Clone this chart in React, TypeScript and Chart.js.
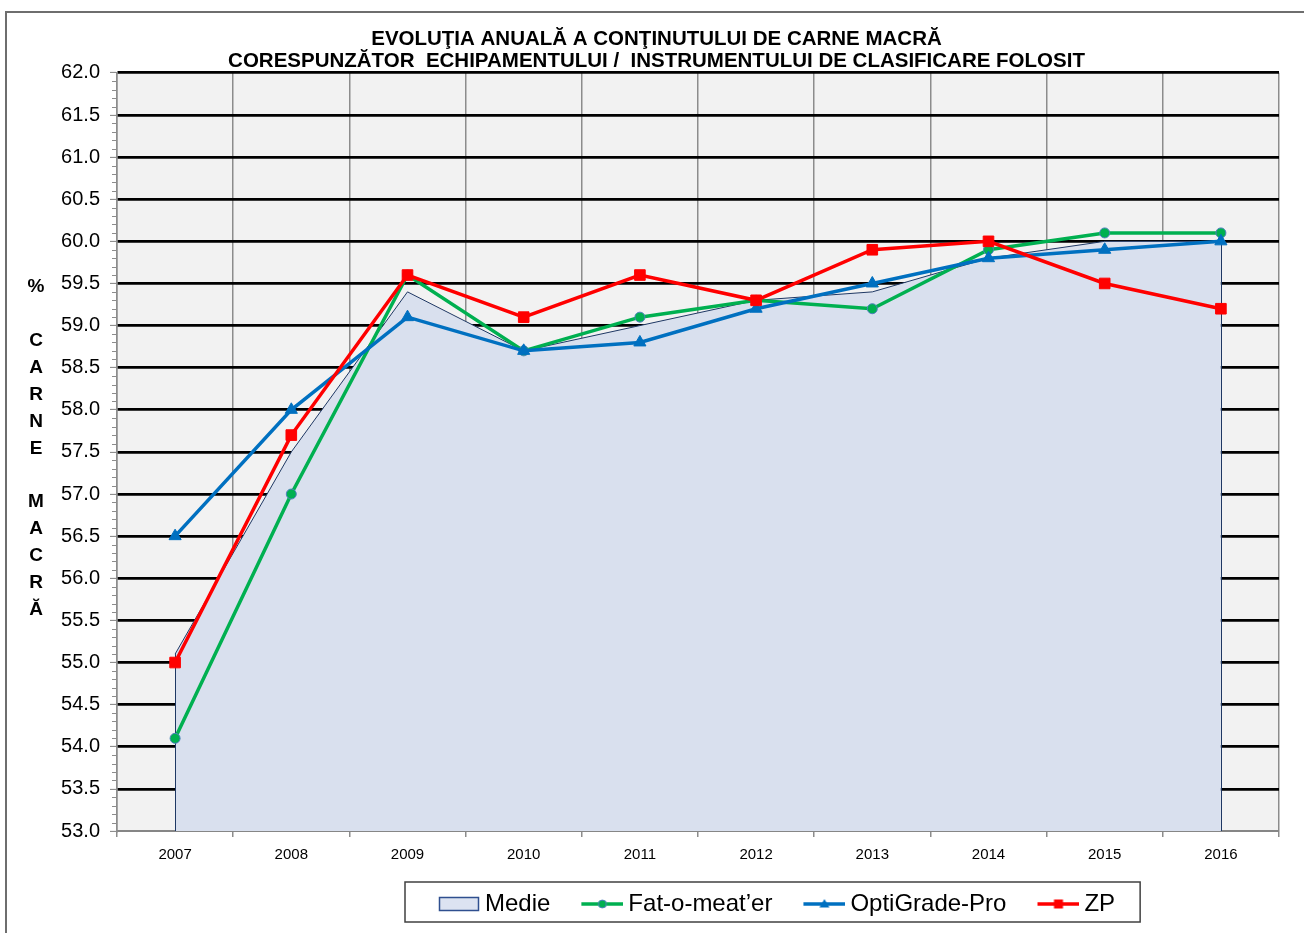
import React, { useEffect, useRef } from "react";
import { Chart, registerables } from "chart.js";

Chart.register(...registerables);

const categories = ["2007", "2008", "2009", "2010", "2011", "2012", "2013", "2014", "2015", "2016"];
const medie = [55.1, 57.5, 59.4, 58.7, 59.0, 59.3, 59.4, 59.8, 60.0, 60.0];
const fatOMeater = [54.1, 57.0, 59.6, 58.7, 59.1, 59.3, 59.2, 59.9, 60.1, 60.1];
const optiGradePro = [56.5, 58.0, 59.1, 58.7, 58.8, 59.2, 59.5, 59.8, 59.9, 60.0];
const zp = [55.0, 57.7, 59.6, 59.1, 59.6, 59.3, 59.9, 60.0, 59.5, 59.2];
const seriesNames = ["Medie", "Fat-o-meat\u2019er", "OptiGrade-Pro", "ZP"];
const titleLines = [
  "EVOLUŢIA ANUALĂ A CONŢINUTULUI DE CARNE MACRĂ",
  "CORESPUNZĂTOR  ECHIPAMENTULUI /  INSTRUMENTULUI DE CLASIFICARE FOLOSIT",
];
const yAxisTitle = ["%", "", "C", "A", "R", "N", "E", "", "M", "A", "C", "R", "Ă"];
const yMin = 53;
const yMax = 62;
const yStep = 0.5;
const yMinorStep = 0.1;

const FONT = '"Liberation Sans", Arial, Helvetica, sans-serif';
const GREEN = "#00b050";
const BLUE = "#0070c0";
const RED = "#ff0000";
const MEDIE_FILL = "#d9e0ee";
const MEDIE_LINE = "#1f3864";

function makeIcon(kind: string, color: string): HTMLCanvasElement {
  const c = document.createElement("canvas");
  c.width = 56;
  c.height = 16;
  const ctx = c.getContext("2d")!;
  if (kind === "area") {
    ctx.fillStyle = "#dce3f1";
    ctx.fillRect(15.5, 1.5, 39, 13);
    ctx.strokeStyle = "#2f4f8f";
    ctx.lineWidth = 1.5;
    ctx.strokeRect(15.5, 1.5, 39, 13);
    return c;
  }
  ctx.strokeStyle = color;
  ctx.lineWidth = 3.5;
  ctx.beginPath();
  ctx.moveTo(14, 8);
  ctx.lineTo(56, 8);
  ctx.stroke();
  const cx = 35;
  const cy = 8;
  ctx.fillStyle = color;
  if (kind === "circle") {
    ctx.beginPath();
    ctx.arc(cx, cy, 4, 0, Math.PI * 2);
    ctx.fill();
    ctx.strokeStyle = "#4f81bd";
    ctx.lineWidth = 1;
    ctx.stroke();
  } else if (kind === "triangle") {
    ctx.beginPath();
    ctx.moveTo(cx, cy - 5);
    ctx.lineTo(cx + 5, cy + 3.5);
    ctx.lineTo(cx - 5, cy + 3.5);
    ctx.closePath();
    ctx.fill();
  } else {
    ctx.fillRect(cx - 4.5, cy - 4.5, 9, 9);
  }
  return c;
}

export default function App() {
  const canvasRef = useRef<HTMLCanvasElement | null>(null);

  useEffect(() => {
    const canvas = canvasRef.current;
    if (!canvas) return;

    const icons = [
      makeIcon("area", MEDIE_LINE),
      makeIcon("circle", GREEN),
      makeIcon("triangle", BLUE),
      makeIcon("rect", RED),
    ];

    const legendItemLeft = 431;
    const titleShift = 17;

    const decor = {
      id: "decor",
      beforeDraw(chart: any) {
        const { ctx, chartArea } = chart;
        ctx.save();
        ctx.fillStyle = "#f2f2f2";
        ctx.fillRect(chartArea.left, chartArea.top, chartArea.right - chartArea.left, chartArea.bottom - chartArea.top);
        ctx.restore();
      },
      afterUpdate(chart: any) {
        const lg = chart.legend;
        if (lg && lg.legendHitBoxes && lg.legendHitBoxes.length) {
          const d = legendItemLeft - lg.legendHitBoxes[0].left;
          lg.left += d;
          lg.right += d;
          lg.legendHitBoxes.forEach((h: any) => (h.left += d));
        }
        const tb = chart.titleBlock;
        if (tb) {
          tb.left += titleShift;
          tb.right += titleShift;
        }
      },
      afterDatasetDraw(chart: any, args: any) {
        if (args.index !== 0) return;
        const meta = chart.getDatasetMeta(0);
        const pts = meta.data;
        if (!pts.length) return;
        const { ctx, chartArea } = chart;
        ctx.save();
        ctx.strokeStyle = MEDIE_LINE;
        ctx.lineWidth = 1;
        [pts[0], pts[pts.length - 1]].forEach((p: any) => {
          ctx.beginPath();
          ctx.moveTo(Math.round(p.x) + 0.5, p.y);
          ctx.lineTo(Math.round(p.x) + 0.5, chartArea.bottom);
          ctx.stroke();
        });
        ctx.restore();
      },
      afterDraw(chart: any) {
        const { ctx, chartArea } = chart;
        const ys = chart.scales.y;
        ctx.save();
        // minor ticks
        ctx.strokeStyle = "#8c8c8c";
        ctx.lineWidth = 1;
        const n = Math.round((yMax - yMin) / yMinorStep);
        const per = Math.round(yStep / yMinorStep);
        for (let i = 0; i <= n; i++) {
          if (i % per === 0) continue;
          const y = Math.round(ys.getPixelForValue(yMin + i * yMinorStep)) + 0.5;
          ctx.beginPath();
          ctx.moveTo(chartArea.left - 5, y);
          ctx.lineTo(chartArea.left, y);
          ctx.stroke();
        }
        // y-axis title (stacked letters)
        ctx.fillStyle = "#000";
        ctx.font = `bold 19px ${FONT}`;
        ctx.textAlign = "center";
        ctx.textBaseline = "middle";
        yAxisTitle.forEach((t, i) => {
          if (t) ctx.fillText(t, 36, 287 + i * 26.9);
        });
        // legend border
        const lg = chart.legend;
        if (lg && lg.legendHitBoxes && lg.legendHitBoxes.length) {
          const hb = lg.legendHitBoxes;
          const first = hb[0];
          const last = hb[hb.length - 1];
          const left = first.left - 26;
          const right = last.left + last.width + 25;
          const cy = first.top + 12;
          ctx.strokeStyle = "#404040";
          ctx.lineWidth = 1.5;
          ctx.strokeRect(left, cy - 22, right - left, 40);
        }
        ctx.restore();
      },
    };

    const chart = new Chart(canvas, {
      type: "line",
      data: {
        labels: categories,
        datasets: [
          {
            label: seriesNames[0],
            data: medie,
            borderColor: MEDIE_LINE,
            borderWidth: 1,
            backgroundColor: MEDIE_FILL,
            fill: "start",
            pointRadius: 0,
            tension: 0,
            order: 10,
          },
          {
            label: seriesNames[1],
            data: fatOMeater,
            borderColor: GREEN,
            borderWidth: 3.5,
            backgroundColor: GREEN,
            pointStyle: "circle",
            pointRadius: 5,
            pointBackgroundColor: GREEN,
            pointBorderColor: "#4f81bd",
            pointBorderWidth: 1,
            fill: false,
            order: 3,
          },
          {
            label: seriesNames[2],
            data: optiGradePro,
            borderColor: BLUE,
            borderWidth: 3.5,
            backgroundColor: BLUE,
            pointStyle: "triangle",
            pointRadius: 7,
            pointBackgroundColor: BLUE,
            pointBorderColor: BLUE,
            pointBorderWidth: 1,
            fill: false,
            order: 2,
          },
          {
            label: seriesNames[3],
            data: zp,
            borderColor: RED,
            borderWidth: 3.5,
            backgroundColor: RED,
            pointStyle: "rect",
            pointRadius: 7.5,
            pointBackgroundColor: RED,
            pointBorderColor: RED,
            pointBorderWidth: 1,
            fill: false,
            order: 1,
          },
        ],
      },
      options: {
        responsive: false,
        animation: false,
        devicePixelRatio: 1,
        layout: { padding: { left: 0, right: 25, top: 0, bottom: 7 } },
        plugins: {
          title: {
            display: true,
            text: titleLines,
            color: "#000",
            font: { family: FONT, size: 20.5, weight: "bold", lineHeight: 1.07 },
            padding: { top: 28, bottom: 1 },
          },
          legend: {
            display: true,
            position: "bottom",
            labels: {
              usePointStyle: true,
              pointStyleWidth: 42,
              boxHeight: 16,
              color: "#000",
              font: { family: FONT, size: 24 },
              padding: 24,
              generateLabels: (c: any) =>
                c.data.datasets.map((ds: any, i: number) => ({
                  text: ds.label,
                  pointStyle: icons[i],
                  datasetIndex: i,
                  hidden: false,
                  lineWidth: 0,
                  strokeStyle: "transparent",
                  fillStyle: "transparent",
                  fontColor: "#000",
                })),
            },
          },
          tooltip: { enabled: false },
        },
        scales: {
          x: {
            type: "category",
            offset: true,
            grid: {
              display: true,
              offset: true,
              color: "#8c8c8c",
              lineWidth: 1.5,
              tickLength: 6,
              drawTicks: true,
            },
            border: { display: true, color: "#868686", width: 2 },
            ticks: {
              color: "#000",
              font: { family: FONT, size: 15 },
              padding: 9,
              maxRotation: 0,
            },
            afterFit: (s: any) => {
              s.height = 37;
            },
          },
          y: {
            type: "linear",
            min: yMin,
            max: yMax,
            grid: {
              color: (ctx: any) => (ctx.tick && ctx.tick.value === yMin ? "rgba(0,0,0,0)" : "#000"),
              lineWidth: 2.75,
              tickLength: 7,
              tickColor: "#7f7f7f",
              tickWidth: 1,
            },
            border: { display: true, color: "#8c8c8c", width: 1.5 },
            ticks: {
              stepSize: yStep,
              color: "#000",
              font: { family: FONT, size: 20 },
              padding: 10,
              callback: (v: any) => Number(v).toFixed(1),
            },
            afterFit: (s: any) => {
              s.width = 117;
            },
          },
        },
      },
      plugins: [decor],
    } as any);

    return () => chart.destroy();
  }, []);

  return (
    <div style={{ position: "absolute", left: 0, top: 0, width: 1304, height: 933, overflow: "hidden", background: "#fff" }}>
      <div
        style={{
          position: "absolute",
          left: 5,
          top: 11,
          width: 1400,
          height: 1000,
          border: "2px solid #6e6e6e",
          boxSizing: "border-box",
        }}
      />
      <canvas ref={canvasRef} width={1304} height={933} style={{ position: "absolute", left: 0, top: 0, width: 1304, height: 933 }} />
    </div>
  );
}
